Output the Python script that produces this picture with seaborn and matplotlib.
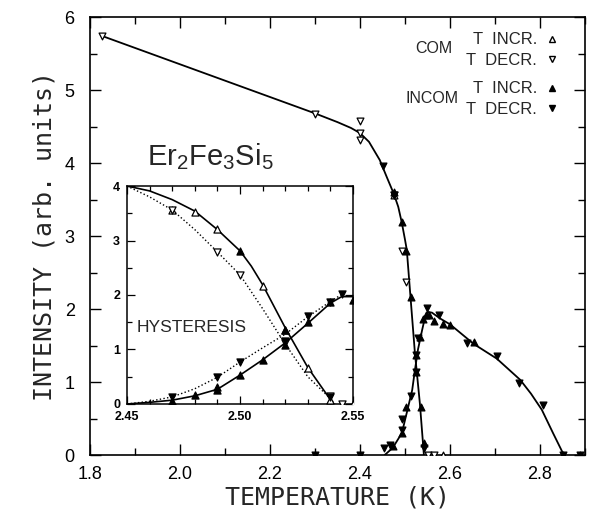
import numpy as np
import pandas as pd
import matplotlib
matplotlib.use("Agg")
import matplotlib.pyplot as plt
from matplotlib.lines import Line2D
from matplotlib.ticker import MultipleLocator, FormatStrFormatter
import seaborn as sns

# ---- main panel: fitted curves ----
com_curve_T = [1.827, 2.30, 2.35, 2.38, 2.40, 2.42, 2.444, 2.46, 2.475, 2.485, 2.493,
               2.500, 2.504, 2.511, 2.522, 2.533, 2.540, 2.542]
com_curve_I = [5.74, 4.68, 4.56, 4.48, 4.41, 4.29, 4.04, 3.80, 3.58, 3.40, 3.18,
               2.95, 2.81, 2.26, 1.40, 0.71, 0.16, 0.0]
incom_curve_T = [2.455, 2.473, 2.493, 2.504, 2.516, 2.522, 2.529, 2.538, 2.545, 2.551,
                 2.560, 2.578, 2.600, 2.653, 2.704, 2.756, 2.780, 2.804, 2.829, 2.853]
incom_curve_I = [0.0, 0.10, 0.30, 0.58, 0.89, 1.16, 1.45, 1.71, 1.90, 1.96,
                 1.95, 1.87, 1.79, 1.52, 1.32, 1.03, 0.84, 0.62, 0.30, 0.0]

# ---- main panel: data points ----
com_incr_T = [2.476, 2.584]
com_incr_I = [3.56, 0.0]
com_decr_T = [1.827, 2.30, 2.40, 2.40, 2.40, 2.476, 2.493, 2.502, 2.551, 2.564]
com_decr_I = [5.74, 4.67, 4.58, 4.41, 4.32, 3.56, 2.79, 2.37, 0.0, 0.0]
incom_incr_T = [2.30, 2.40, 2.476, 2.493, 2.502, 2.513, 2.536, 2.542, 2.473, 2.493,
                2.502, 2.524, 2.524, 2.533, 2.540, 2.547, 2.553, 2.564, 2.584, 2.600,
                2.653, 2.852, 2.89]
incom_incr_I = [0.0, 0.0, 3.60, 3.19, 2.79, 2.16, 0.66, 0.16, 0.12, 0.30,
                0.66, 1.37, 1.14, 1.62, 1.86, 1.92, 1.92, 1.84, 1.80, 1.78,
                1.55, 0.0, 0.0]
incom_decr_T = [2.30, 2.40, 2.451, 2.476, 2.542, 2.453, 2.467, 2.493, 2.493, 2.513,
                2.524, 2.524, 2.529, 2.549, 2.576, 2.638, 2.705, 2.754, 2.807, 2.852,
                2.89]
incom_decr_I = [0.0, 0.0, 3.96, 3.56, 0.10, 0.10, 0.14, 0.34, 0.49, 0.81,
                1.37, 1.14, 1.60, 2.01, 1.92, 1.54, 1.36, 0.98, 0.68, 0.0,
                0.0]

# ---- inset (hysteresis) curves ----
ins_com_incr_curve_T = [2.45, 2.46, 2.47, 2.48, 2.49, 2.50, 2.505, 2.51, 2.52, 2.53, 2.54, 2.541]
ins_com_incr_curve_I = [4.0, 3.91, 3.75, 3.54, 3.20, 2.81, 2.53, 2.19, 1.40, 0.67, 0.08, 0.0]
ins_com_decr_curve_T = [2.45, 2.46, 2.47, 2.48, 2.49, 2.50, 2.51, 2.52, 2.53, 2.54, 2.542]
ins_com_decr_curve_I = [4.0, 3.80, 3.56, 3.20, 2.79, 2.37, 1.75, 1.10, 0.50, 0.10, 0.0]
ins_incom_incr_curve_T = [2.45, 2.46, 2.47, 2.48, 2.49, 2.50, 2.51, 2.52, 2.53, 2.54, 2.545, 2.55]
ins_incom_incr_curve_I = [0.0, 0.03, 0.07, 0.15, 0.27, 0.53, 0.81, 1.12, 1.48, 1.85, 1.97, 1.97]
ins_incom_decr_curve_T = [2.45, 2.46, 2.47, 2.48, 2.49, 2.50, 2.51, 2.52, 2.53, 2.54, 2.545]
ins_incom_decr_curve_I = [0.0, 0.05, 0.13, 0.28, 0.49, 0.77, 1.03, 1.28, 1.60, 1.88, 2.01]

# ---- inset data points ----
ins_com_incr_T = [2.47, 2.48, 2.49, 2.51, 2.52, 2.53, 2.54, 2.55]
ins_com_incr_I = [3.56, 3.52, 3.21, 2.17, 1.36, 0.66, 0.08, 0.0]
ins_com_decr_T = [2.47, 2.49, 2.50, 2.52, 2.54, 2.545]
ins_com_decr_I = [3.56, 2.79, 2.37, 1.12, 0.15, 0.0]
ins_incom_incr_T = [2.47, 2.48, 2.49, 2.49, 2.50, 2.50, 2.51, 2.52, 2.52, 2.53, 2.54, 2.55]
ins_incom_incr_I = [0.06, 0.17, 0.25, 0.31, 0.53, 2.81, 0.80, 1.08, 1.36, 1.50, 1.87, 1.90]
ins_incom_decr_T = [2.47, 2.49, 2.50, 2.52, 2.53, 2.54, 2.545, 2.54]
ins_incom_decr_I = [0.12, 0.49, 0.77, 1.16, 1.62, 1.88, 2.01, 0.12]

FONT = "Liberation Sans"
MONO = "DejaVu Sans Mono"


def draw_points(ax, T, I, marker, filled, s):
    df = pd.DataFrame({"T": T, "I": I})
    face = "black" if filled else "white"
    sns.scatterplot(data=df, x="T", y="I", marker=marker, s=s, color=face,
                    edgecolor="black", linewidth=0.9, zorder=4, ax=ax, legend=False)


def draw_curve(ax, T, I, ls="-", lw=1.3):
    df = pd.DataFrame({"T": T, "I": I})
    sns.lineplot(data=df, x="T", y="I", sort=False, estimator=None, color="black",
                 linestyle=ls, linewidth=lw, zorder=3, ax=ax)


def main():
    sns.set_theme(style="ticks")
    plt.rcParams["font.family"] = [FONT, "DejaVu Sans"]
    plt.rcParams["mathtext.fontset"] = "custom"
    plt.rcParams["mathtext.rm"] = FONT
    plt.rcParams["mathtext.it"] = FONT

    fig = plt.figure(figsize=(5.89, 5.2), dpi=100)
    ax = fig.add_axes([0.1528, 0.125, 0.8404, 0.8423])

    # curves
    draw_curve(ax, com_curve_T, com_curve_I)
    draw_curve(ax, incom_curve_T, incom_curve_I)

    # points
    draw_points(ax, com_incr_T, com_incr_I, "^", False, 24)
    draw_points(ax, com_decr_T, com_decr_I, "v", False, 24)
    draw_points(ax, incom_incr_T, incom_incr_I, "^", True, 24)
    draw_points(ax, incom_decr_T, incom_decr_I, "v", True, 24)

    ax.set_xlim(1.8, 2.9)
    ax.set_ylim(0, 6)
    ax.xaxis.set_major_locator(MultipleLocator(0.2))
    ax.xaxis.set_minor_locator(MultipleLocator(0.1))
    ax.xaxis.set_major_formatter(FormatStrFormatter("%.1f"))
    ax.yaxis.set_major_locator(MultipleLocator(1))
    ax.yaxis.set_minor_locator(MultipleLocator(0.5))
    ax.tick_params(which="both", direction="in", top=True, right=True, width=1.0,
                   labelsize=13, colors="black")
    ax.tick_params(which="major", length=8, pad=8)
    ax.tick_params(which="minor", length=5)
    ax.tick_params(axis="y", which="major", pad=11)
    for sp in ax.spines.values():
        sp.set_linewidth(1.2)
        sp.set_color("black")
    ax.set_xlabel("TEMPERATURE (K)", fontsize=18, family=MONO, labelpad=2)
    ax.set_ylabel("INTENSITY (arb. units)", fontsize=18, family=MONO, labelpad=6)

    ax.text(0.115, 0.662, r"Er$_2$Fe$_3$Si$_5$", transform=ax.transAxes,
            fontsize=21, va="baseline", ha="left")

    # legend block
    ax.text(0.695, 0.929, "COM", transform=ax.transAxes, fontsize=11.5,
            ha="center", va="center")
    ax.text(0.691, 0.815, "INCOM", transform=ax.transAxes, fontsize=11.5,
            ha="center", va="center")
    com_handles = [
        Line2D([], [], ls="none", marker="^", ms=4.5, mfc="white", mec="black", label="T  INCR."),
        Line2D([], [], ls="none", marker="v", ms=4.5, mfc="white", mec="black", label="T  DECR."),
    ]
    incom_handles = [
        Line2D([], [], ls="none", marker="^", ms=4.5, mfc="black", mec="black", label="T  INCR."),
        Line2D([], [], ls="none", marker="v", ms=4.5, mfc="black", mec="black", label="T  DECR."),
    ]
    leg_kw = dict(loc="upper left", frameon=False, markerfirst=False, fontsize=12,
                  handlelength=1.0, handletextpad=0.4, labelspacing=0.35,
                  borderpad=0, borderaxespad=0)
    leg1 = ax.legend(handles=com_handles, bbox_to_anchor=(0.760, 0.965), **leg_kw)
    ax.add_artist(leg1)
    ax.legend(handles=incom_handles, bbox_to_anchor=(0.760, 0.853), **leg_kw)

    # ---- inset ----
    ins = fig.add_axes([0.2156, 0.2231, 0.3837, 0.4192])
    ins.set_facecolor("white")
    draw_curve(ins, ins_com_incr_curve_T, ins_com_incr_curve_I, "-", 1.2)
    draw_curve(ins, ins_incom_incr_curve_T, ins_incom_incr_curve_I, "-", 1.2)
    draw_curve(ins, ins_com_decr_curve_T, ins_com_decr_curve_I, ":", 1.0)
    draw_curve(ins, ins_incom_decr_curve_T, ins_incom_decr_curve_I, ":", 1.0)
    draw_points(ins, ins_com_incr_T, ins_com_incr_I, "^", False, 26)
    draw_points(ins, ins_com_decr_T, ins_com_decr_I, "v", False, 26)
    draw_points(ins, ins_incom_incr_T, ins_incom_incr_I, "^", True, 26)
    draw_points(ins, ins_incom_decr_T, ins_incom_decr_I, "v", True, 26)

    ins.set_xlim(2.45, 2.55)
    ins.set_ylim(0, 4)
    ins.xaxis.set_major_locator(MultipleLocator(0.05))
    ins.xaxis.set_minor_locator(MultipleLocator(0.01))
    ins.xaxis.set_major_formatter(FormatStrFormatter("%.2f"))
    ins.yaxis.set_major_locator(MultipleLocator(1))
    ins.yaxis.set_minor_locator(MultipleLocator(0.5))
    ins.tick_params(which="both", direction="in", top=True, right=True, width=0.9,
                    labelsize=9, colors="black")
    ins.tick_params(which="major", length=6, pad=5)
    ins.tick_params(which="minor", length=3.5)
    for lab in ins.get_xticklabels() + ins.get_yticklabels():
        lab.set_fontweight("bold")
    for sp in ins.spines.values():
        sp.set_linewidth(1.1)
        sp.set_color("black")
    ins.set_xlabel("")
    ins.set_ylabel("")
    ins.text(0.044, 0.353, "HYSTERESIS", transform=ins.transAxes, fontsize=12.5,
             ha="left", va="center")

    fig.savefig("out.png", dpi=100)
    plt.close(fig)


if __name__ == "__main__":
    main()
